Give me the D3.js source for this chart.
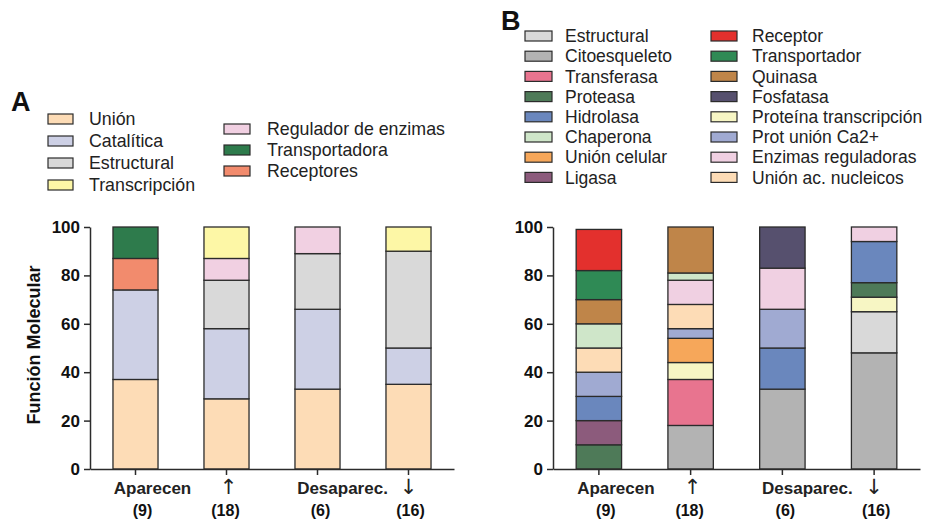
<!DOCTYPE html>
<html>
<head>
<meta charset="utf-8">
<script src="https://cdn.jsdelivr.net/npm/d3@7"></script>
<style>
  html, body { margin: 0; padding: 0; background: #fff; }
  svg { display: block; font-family: "Liberation Sans", Arial, sans-serif; }
</style>
</head>
<body>
<svg id="chart" width="928" height="522"></svg>
<script>
// Shared categories (x axis): two-line labels
const categories = ["Aparecen", "↑", "Desaparec.", "↓"];
const counts = ["(9)", "(18)", "(6)", "(16)"];
const yTicks = [0, 20, 40, 60, 80, 100];

// ---- Panel A: molecular function (%) ----
const seriesA = ["Unión", "Catalítica", "Estructural", "Transcripción",
                 "Regulador de enzimas", "Transportadora", "Receptores"];
const colorsA = ["#fddcb6", "#cdd0e5", "#d9d9d9", "#fdf7a6",
                 "#f1d0e2", "#2e7b4c", "#f28b6d"];
// stacking order, bottom to top
const stackA = ["Unión", "Catalítica", "Estructural", "Regulador de enzimas",
                "Transcripción", "Receptores", "Transportadora"];
const unionA        = [37, 29, 33, 35];
const cataliticaA   = [37, 29, 33, 15];
const estructuralA  = [0, 20, 23, 40];
const transcripA    = [0, 13, 0, 10];
const reguladorA    = [0, 9, 11, 0];
const transportA    = [13, 0, 0, 0];
const receptoresA   = [13, 0, 0, 0];
const valuesA = {
  "Unión": unionA, "Catalítica": cataliticaA, "Estructural": estructuralA,
  "Transcripción": transcripA, "Regulador de enzimas": reguladorA,
  "Transportadora": transportA, "Receptores": receptoresA
};

// ---- Panel B: detailed molecular function (%) ----
const seriesB = ["Estructural", "Citoesqueleto", "Transferasa", "Proteasa",
                 "Hidrolasa", "Chaperona", "Unión celular", "Ligasa",
                 "Receptor", "Transportador", "Quinasa", "Fosfatasa",
                 "Proteína transcripción", "Prot unión Ca2+",
                 "Enzimas reguladoras", "Unión ac. nucleicos"];
const colorsB = ["#d9d9d9", "#b3b3b3", "#e8748f", "#4e7a58",
                 "#6a87bd", "#cfe6c9", "#f6a75a", "#8c5b7c",
                 "#e3302d", "#2f8a55", "#bf8549", "#56506e",
                 "#f7f6c4", "#a0aad2", "#f0d0e2", "#fddcb6"];
const stackB = ["Citoesqueleto", "Estructural", "Transferasa", "Proteína transcripción",
                "Unión celular", "Proteasa", "Ligasa", "Hidrolasa", "Prot unión Ca2+",
                "Unión ac. nucleicos", "Enzimas reguladoras", "Chaperona", "Quinasa",
                "Fosfatasa", "Transportador", "Receptor"];
const citoesqueletoB = [0, 18, 33, 48];
const estructuralB   = [0, 0, 0, 17];
const transferasaB   = [0, 19, 0, 0];
const protTranscB    = [0, 7, 0, 6];
const unionCelularB  = [0, 10, 0, 0];
const proteasaB      = [10, 0, 0, 6];
const ligasaB        = [10, 0, 0, 0];
const hidrolasaB     = [10, 0, 17, 17];
const ca2B           = [10, 4, 16, 0];
const unionAcNucB    = [10, 10, 0, 0];
const enzRegB        = [0, 10, 17, 6];
const chaperonaB     = [10, 3, 0, 0];
const quinasaB       = [10, 19, 0, 0];
const fosfatasaB     = [0, 0, 17, 0];
const transportB     = [12, 0, 0, 0];
const receptorB      = [17, 0, 0, 0];
const valuesB = {
  "Citoesqueleto": citoesqueletoB, "Estructural": estructuralB,
  "Transferasa": transferasaB, "Proteína transcripción": protTranscB,
  "Unión celular": unionCelularB, "Proteasa": proteasaB, "Ligasa": ligasaB,
  "Hidrolasa": hidrolasaB, "Prot unión Ca2+": ca2B,
  "Unión ac. nucleicos": unionAcNucB, "Enzimas reguladoras": enzRegB,
  "Chaperona": chaperonaB, "Quinasa": quinasaB, "Fosfatasa": fosfatasaB,
  "Transportador": transportB, "Receptor": receptorB
};

// label nudges for the two-line category labels
const dx1 = [17, 2, 25, 0];
const dx2 = [7, -1, 3, 2];
const isArrow = c => c === "↑" || c === "↓";

const svg = d3.select("#chart");
const ink = "#2b2b2b";

function drawPanel(opts) {
  const g = svg.append("g");
  const x = d3.scaleBand().domain(categories)
    .range([opts.x0, opts.x1]).paddingInner(0.505).paddingOuter(0.2525);
  const y = d3.scaleLinear().domain([0, 100]).range([469, 227]);
  const color = d3.scaleOrdinal().domain(opts.series).range(opts.colors);

  const rows = categories.map((c, i) => {
    const r = { cat: c };
    opts.stack.forEach(k => r[k] = opts.values[k][i]);
    return r;
  });
  const layers = d3.stack().keys(opts.stack)(rows);

  g.selectAll("g.layer").data(layers).join("g")
    .attr("fill", d => color(d.key))
    .selectAll("rect").data(d => d.filter(s => s[1] - s[0] > 0)).join("rect")
      .attr("x", d => x(d.data.cat))
      .attr("width", x.bandwidth())
      .attr("y", d => y(d[1]))
      .attr("height", d => y(d[0]) - y(d[1]))
      .attr("stroke", ink).attr("stroke-width", 1.3);

  // y axis
  const ya = g.append("g").attr("transform", `translate(${opts.x0},0)`)
    .call(d3.axisLeft(y).tickValues(yTicks).tickSize(6).tickSizeOuter(0));
  // x axis
  const xa = g.append("g").attr("transform", "translate(0,469)")
    .call(d3.axisBottom(x).tickSize(6).tickSizeOuter(0).tickFormat(""));
  [ya, xa].forEach(a => {
    a.selectAll("path, line").attr("stroke", ink).attr("stroke-width", 1.5);
  });
  ya.selectAll("text").attr("font-size", 17).attr("font-weight", "bold")
    .attr("fill", "#111").attr("dx", -1);

  // two-line category labels
  categories.forEach((c, i) => {
    const cx = x(c) + x.bandwidth() / 2;
    const arrow = isArrow(c);
    const t = g.append("text").attr("x", cx + dx1[i]).attr("y", arrow ? 494 : 494)
      .attr("text-anchor", "middle").attr("font-size", arrow ? 21 : 17)
      .attr("font-weight", arrow ? "normal" : "bold").attr("fill", "#222").text(c);
    if (arrow) t.attr("font-family", "'DejaVu Sans', sans-serif");
    g.append("text").attr("x", cx + dx2[i]).attr("y", 516)
      .attr("text-anchor", "middle").attr("font-size", 16)
      .attr("font-weight", "bold").attr("fill", "#111").text(counts[i]);
  });

  // panel letter
  g.append("text").attr("x", opts.letterX).attr("y", opts.letterY)
    .attr("font-size", 27).attr("font-weight", "bold").attr("fill", "#111")
    .text(opts.letter);

  // legend in columns
  opts.legendCols.forEach(col => {
    col.items.forEach((name, j) => {
      const yy = col.y0 + j * col.dy;
      g.append("rect").attr("x", col.sx).attr("y", yy - 5)
        .attr("width", col.sw).attr("height", 10)
        .attr("fill", color(name)).attr("stroke", ink).attr("stroke-width", 1.2);
      g.append("text").attr("x", col.tx).attr("y", yy)
        .attr("dy", "0.35em").attr("font-size", opts.legendFont)
        .attr("fill", "#222").text(name);
    });
  });
  return g;
}

drawPanel({
  x0: 90, x1: 454, series: seriesA, colors: colorsA, stack: stackA, values: valuesA,
  letter: "A", letterX: 11, letterY: 111, legendFont: 17.8,
  legendCols: [
    { items: seriesA.slice(0, 4), sx: 48, sw: 25, tx: 89, y0: 119, dy: 22 },
    { items: seriesA.slice(4), sx: 224, sw: 26, tx: 267, y0: 129, dy: 21 }
  ]
});

drawPanel({
  x0: 553, x1: 920, series: seriesB, colors: colorsB, stack: stackB, values: valuesB,
  letter: "B", letterX: 501, letterY: 30, legendFont: 17.5,
  legendCols: [
    { items: seriesB.slice(0, 8), sx: 525, sw: 27, tx: 565, y0: 36, dy: 20.2 },
    { items: seriesB.slice(8), sx: 711, sw: 26, tx: 752, y0: 36, dy: 20.2 }
  ]
});

// y axis title (panel A)
svg.append("text")
  .attr("transform", "translate(40,345) rotate(-90)")
  .attr("text-anchor", "middle").attr("font-size", 18)
  .attr("font-weight", "bold").attr("fill", "#111")
  .text("Función Molecular");
</script>
</body>
</html>
